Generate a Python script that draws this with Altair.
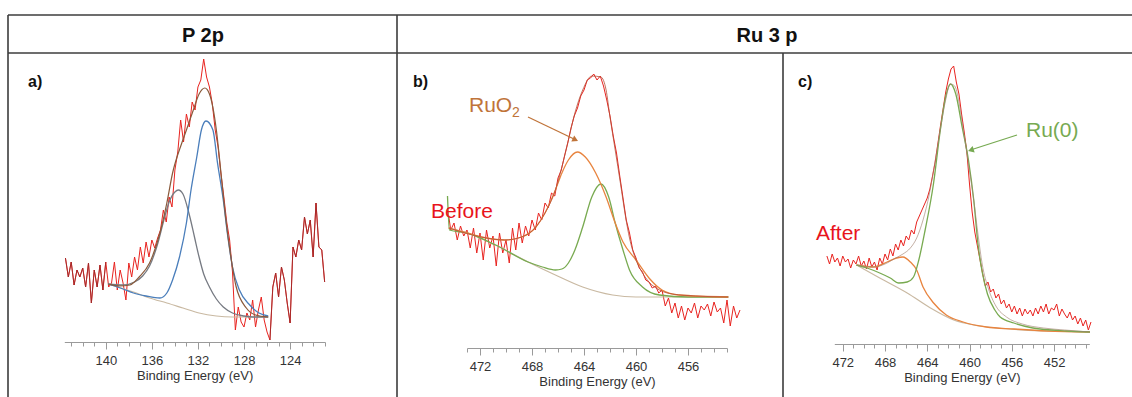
import altair as alt
import numpy as np
import pandas as pd

FONT = "Liberation Sans"
W, H = 1132, 397

# ---------------- a) P 2p ----------------
a_start, a_step = 143.5, 0.25
a_counts = [
    84, 65,
    80, 57, 72, 65,
    74, 55, 79, 39,
    72, 55, 77, 52,
    80, 55, 59, 80,
    52, 72, 59, 42,
    79, 65, 85, 72,
    95, 79, 100, 85,
    102, 94, 104, 112,
    132, 120, 145, 135,
    172, 190, 222, 200,
    228, 215, 240, 232,
    255, 262, 283, 265,
    255, 238, 212, 195,
    168, 145, 120, 102,
    70, 12, 35, 20,
    15, 29, 22, 42,
    15, 32, 45, 22,
    10, 2, 55, 69,
    45, 75, 62, 39,
    19, 95, 85, 102,
    92, 125, 108, 122,
    85, 139, 95, 92,
    60,
]
a_fit_lo, a_fit_hi = 125.9, 139.8
a_bg_E = [139.8, 137.6, 136.2, 134.7, 133.3, 131.9, 130.4, 129.0, 125.9]
a_bg_I = [58, 50, 44, 39, 34, 29, 26, 25, 25]
a_p1_E = [139.8, 138.5, 137.6, 136.5, 135.3, 134.7, 134.2, 133.6, 133.0, 132.6, 132.1,
          131.7, 131.3, 130.7, 130.3, 129.8, 129.4, 129.0, 128.4, 127.5, 126.7, 125.9]
a_p1_I = [58, 53, 49, 46, 44, 49, 62, 85, 119, 152, 185,
          212, 221, 212, 179, 142, 105, 75, 52, 37, 29, 26]
a_p2_E = [139.8, 138.5, 137.5, 136.8, 136.2, 135.5, 135.0, 134.5, 134.0, 133.7, 133.3,
          132.7, 132.3, 131.9, 131.5, 131.0, 130.4, 129.8, 129.0, 128.0, 127.2, 125.9]
a_p2_I = [58, 57, 60, 66, 76, 98, 120, 140, 150, 152, 148,
          125, 105, 85, 68, 55, 43, 35, 29, 26, 25, 25]
a_env_E = [139.8, 138.8, 137.9, 137.1, 136.2, 135.3, 134.7, 134.2, 133.4, 133.0, 132.4,
           131.9, 131.4, 131.0, 130.4, 130.0, 129.6, 129.1, 128.7, 127.8, 127.0, 125.9]
a_env_I = [58, 56, 57, 65, 79, 109, 139, 169, 199, 212, 232,
           248, 254, 248, 212, 169, 125, 82, 56, 34, 27, 25]
a_ticks = [140, 136, 132, 128, 124]
a_minor = list(range(121, 144))

# ---------------- b) Ru 3p before ----------------
b_start, b_step = 474.5, 0.25
b_counts = [
    140, 118,
    125, 108, 122, 112,
    118, 100, 120, 95,
    115, 88, 118, 100,
    112, 82, 115, 95,
    108, 85, 120, 98,
    125, 105, 122, 112,
    128, 118, 135, 128,
    145, 140, 155, 152,
    170, 178, 192, 205,
    220, 232, 240, 252,
    258, 268, 270, 274,
    268, 272, 262, 248,
    232, 212, 195, 172,
    150, 128, 115, 98,
    90, 80, 76, 68,
    66, 60, 62, 55,
    58, 42, 50, 35,
    45, 30, 42, 28,
    40, 35, 45, 30,
    42, 38, 44, 32,
    46, 36, 40, 25,
    48, 22, 42, 30,
    38,
]
b_bg_E = [474.4, 473.0, 470.8, 468.3, 466.2, 464.1, 461.8, 460.0, 456.0, 452.9]
b_bg_I = [120, 115, 103, 86, 73, 61, 53, 51, 51, 51]
b_ru_E = [474.5, 474.35, 473.0, 470.8, 468.3, 467.2, 466.2, 465.7, 465.2, 464.7, 464.1,
          463.4, 462.7, 462.1, 461.6, 461.0, 460.5, 459.5, 458.2, 456.0, 452.9]
b_ru_I = [152, 118, 115, 103, 86, 81, 78, 79, 85, 98, 121,
          151, 164, 151, 125, 98, 78, 61, 53, 51, 51]
b_ox_E = [474.4, 473.0, 471.9, 470.1, 468.8, 467.7, 467.0, 466.2, 465.7, 465.2, 464.5,
          463.9, 463.1, 462.3, 461.6, 461.0, 460.0, 459.0, 458.0, 456.7, 452.9]
b_ox_I = [120, 115, 111, 108, 111, 121, 135, 158, 175, 188, 196,
          191, 175, 151, 125, 106, 88, 70, 58, 53, 51]
b_env_E = [474.4, 473.4, 471.9, 470.1, 468.8, 467.7, 467.0, 466.2, 465.7, 465.2, 464.7,
           464.1, 463.4, 462.7, 462.3, 462.0, 461.6, 461.2, 460.8, 460.5, 460.0, 459.5,
           459.0, 458.2, 457.2, 455.4, 452.9]
b_env_I = [120, 116, 111, 108, 111, 121, 135, 158, 181, 208, 235,
           258, 272, 271, 258, 231, 198, 165, 131, 110, 88, 75,
           66, 58, 54, 52, 51]
b_ticks = [472, 468, 464, 460, 456]
b_minor = list(range(453, 474))

# ---------------- c) Ru 3p after ----------------
c_start, c_step = 473.5, 0.25
c_counts = [
    88, 80,
    90, 82, 86, 78,
    88, 82, 85, 76,
    84, 80, 88, 78,
    83, 75, 86, 77,
    82, 74, 86, 80,
    90, 84, 95, 88,
    100, 94, 104, 98,
    108, 104, 114, 110,
    122, 128, 134, 140,
    146, 155, 168, 182,
    200, 218, 235, 252,
    265, 275, 278, 262,
    250, 230, 212, 192,
    160, 132, 112, 98,
    84, 70, 58, 62,
    52, 55, 46, 50,
    40, 44, 36, 40,
    32, 38, 30, 36,
    28, 35, 30, 34,
    28, 36, 30, 38,
    32, 40, 30, 36,
    34, 40, 28, 35,
    30, 26, 32, 24,
    28, 20, 26, 18,
    24, 14, 22,
]
c_bg_E = [470.7, 468.5, 465.9, 463.7, 461.5, 459.6, 457.4, 452.7, 448.6]
c_bg_I = [79, 66, 51, 36, 24, 19, 16, 13, 12]
c_ru_E = [470.7, 469.7, 468.5, 467.5, 466.7, 465.9, 465.3, 464.8, 464.2, 463.4, 462.8,
          462.3, 461.8, 461.3, 460.7, 460.1, 459.6, 459.2, 458.8, 458.3, 457.6, 457.1,
          455.8, 454.0, 450.8, 448.6]
c_ru_I = [79, 76, 71, 66, 61, 62, 67, 84, 114, 161, 211,
          245, 260, 250, 217, 184, 144, 100, 72, 50, 34, 27,
          21, 16, 13, 12]
c_ox_E = [470.7, 469.1, 467.8, 466.9, 466.3, 465.6, 465.0, 464.4, 463.4, 462.2, 460.6,
          458.4, 455.8, 452.7, 448.6]
c_ox_I = [79, 77, 82, 86, 87, 82, 74, 57, 41, 29, 22, 17, 15, 13, 12]
c_env_E = [470.7, 469.0, 468.0, 467.0, 466.3, 465.6, 465.0, 464.4, 463.8, 463.3, 462.8,
           462.3, 461.8, 461.4, 461.0, 460.6, 460.1, 459.6, 459.2, 458.8, 458.2, 457.5,
           456.5, 455.0, 453.0, 451.0, 448.6]
c_env_I = [79, 77, 80, 86, 90, 96, 106, 124, 150, 180, 212,
           242, 260, 258, 242, 215, 180, 144, 110, 80, 55, 38,
           27, 20, 16, 14, 12]
c_ticks = [472, 468, 464, 460, 456, 452]
c_minor = list(range(449, 473))

# ---------------- styling / layout ----------------
RED = "#E8231F"
DARKRED = "#9C2A2A"
BLUE = "#4A7EBB"
GRAY = "#767A82"
BROWN = "#8A5A3B"
TAN = "#C9B9A2"
GREEN = "#78AA50"
ORANGE = "#E8843F"
AX = "#9A9A9A"
TXT = "#333333"
LINE = "#3C3C3C"

PANELS = {
    "a": dict(dom=[143.6, 120.97], rng=[64.3, 325.0], base=342, ticks=a_ticks, minor=a_minor),
    "b": dict(dom=[473.0, 453.0], rng=[467.0, 727.0], base=348, ticks=b_ticks, minor=b_minor),
    "c": dict(dom=[472.8, 448.66], rng=[834.3, 1089.3], base=344, ticks=c_ticks, minor=c_minor),
}


def spectrum(start, step, counts):
    E = np.round(start - step * np.arange(len(counts)), 2)
    return pd.DataFrame({"E": E, "I": counts})


def curve(E, I):
    return pd.DataFrame({"E": E, "I": I})


def xs(p):
    return alt.Scale(domain=p["dom"], range=p["rng"], nice=False, zero=False)


def ys(p):
    return alt.Scale(domain=[0, 300], range=[p["base"], p["base"] - 300], nice=False, zero=False)


def major_axis(p):
    return alt.Axis(orient="bottom", offset=p["base"] - H, values=p["ticks"], tickSize=7,
                    tickColor=AX, domainColor=AX, tickWidth=1, domainWidth=1, grid=False,
                    labelFont=FONT, labelFontSize=13, labelColor=TXT, labelPadding=5,
                    labelFlush=False, labelOverlap=False, format="d",
                    title="Binding Energy (eV)", titleFont=FONT, titleFontSize=13,
                    titleFontWeight="normal", titleColor=TXT, titlePadding=2)


def minor_axis(p):
    return alt.Axis(orient="bottom", offset=p["base"] - H, values=p["minor"], tickSize=4,
                    tickColor=AX, tickWidth=1, domain=False, labels=False, grid=False, title="")


def line(df, p, color, width=1.0, axis=None, detail=None, smooth=True, opacity=1.0):
    mark = alt.Chart(df).mark_line(color=color, strokeWidth=width, opacity=opacity,
                                   interpolate="monotone" if smooth else "linear")
    enc = dict(
        x=alt.X("E:Q", scale=xs(p), axis=axis if axis is not None else None),
        y=alt.Y("I:Q", scale=ys(p), axis=None),
    )
    if detail:
        enc["detail"] = alt.Detail(detail)
    return mark.encode(**enc)


layers = []

# panel a
pa = PANELS["a"]
a_df = spectrum(a_start, a_step, a_counts)
a_out = a_df[(a_df.E >= a_fit_hi) | (a_df.E <= a_fit_lo)].copy()
a_out["seg"] = np.where(a_out.E > 130, "L", "R")
layers += [
    line(a_df, pa, RED, 1.0, axis=major_axis(pa), smooth=False),
    line(a_out, pa, DARKRED, 1.0, detail="seg:N", smooth=False, opacity=0.85),
    line(curve(a_bg_E, a_bg_I), pa, TAN, 1.2, axis=minor_axis(pa)),
    line(curve(a_p2_E, a_p2_I), pa, GRAY, 1.3),
    line(curve(a_p1_E, a_p1_I), pa, BLUE, 1.3),
    line(curve(a_env_E, a_env_I), pa, BROWN, 1.2),
]

# panel b
pb = PANELS["b"]
layers += [
    line(spectrum(b_start, b_step, b_counts), pb, RED, 1.0, axis=major_axis(pb), smooth=False),
    line(curve(b_bg_E, b_bg_I), pb, TAN, 1.2, axis=minor_axis(pb)),
    line(curve(b_ru_E, b_ru_I), pb, GREEN, 1.3),
    line(curve(b_ox_E, b_ox_I), pb, ORANGE, 1.3),
    line(curve(b_env_E, b_env_I), pb, "#B4503A", 1.0, opacity=0.8),
]

# panel c
pc = PANELS["c"]
layers += [
    line(spectrum(c_start, c_step, c_counts), pc, RED, 1.0, axis=major_axis(pc), smooth=False),
    line(curve(c_bg_E, c_bg_I), pc, TAN, 1.2, axis=minor_axis(pc)),
    line(curve(c_ox_E, c_ox_I), pc, ORANGE, 1.3),
    line(curve(c_ru_E, c_ru_I), pc, GREEN, 1.3),
    line(curve(c_env_E, c_env_I), pc, "#A07F6E", 0.9, opacity=0.7),
]

# ---------------- table frame, headers, annotations ----------------
deco = alt.Chart(pd.DataFrame({"k": [0]}))


def hline(y, x1, x2):
    return deco.mark_rule(color=LINE, strokeWidth=1.6).encode(
        x=alt.value(x1), x2=alt.value(x2), y=alt.value(y))


def vline(x, y1, y2):
    return deco.mark_rule(color=LINE, strokeWidth=1.6).encode(
        x=alt.value(x), y=alt.value(y1), y2=alt.value(y2))


def label(txt, x, y, size, color, weight="normal", align="left"):
    return deco.mark_text(text=txt, font=FONT, fontSize=size, fontWeight=weight, color=color,
                          align=align, baseline="alphabetic").encode(x=alt.value(x), y=alt.value(y))


def arrow(x1, y1, x2, y2, hx, hy, angle, color):
    return [
        deco.mark_rule(color=color, strokeWidth=1.3).encode(
            x=alt.value(x1), y=alt.value(y1), x2=alt.value(x2), y2=alt.value(y2)),
        deco.mark_point(shape="triangle", filled=True, size=45, angle=angle, color=color,
                        opacity=1).encode(x=alt.value(hx), y=alt.value(hy)),
    ]


layers += [
    hline(15, 8, W), hline(53, 8, W),
    vline(8, 15, H), vline(397, 15, H), vline(783, 53, H),
    label("P 2p", 203, 42, 20, "#111111", "bold", "center"),
    label("Ru 3 p", 767, 42, 20, "#111111", "bold", "center"),
    label("a)", 28, 87, 16, "#111111", "bold"),
    label("b)", 413, 87, 16, "#111111", "bold"),
    label("c)", 798, 87, 16, "#111111", "bold"),
    label("RuO", 469, 112, 21, "#C0743A"),
    label("2", 512, 117, 14, "#C0743A"),
    label("Before", 431, 218, 21, "#E8141C"),
    label("After", 816, 240, 21, "#E8141C"),
    label("Ru(0)", 1026, 137, 21, "#77AA52"),
]
layers += arrow(528, 117, 574, 139, 574.5, 139.3, 115.6, "#C0743A")
layers += arrow(1017, 135, 972, 149.5, 971.8, 149.8, 251.9, "#77AA52")

chart = (
    alt.layer(*layers)
    .resolve_scale(x="independent", y="independent")
    .properties(width=W, height=H, padding=0, autosize=alt.AutoSizeParams(type="none"),
                background="white")
    .configure_view(strokeWidth=0)
)

chart.save("out.html", embed_options={"renderer": "svg", "actions": False})
